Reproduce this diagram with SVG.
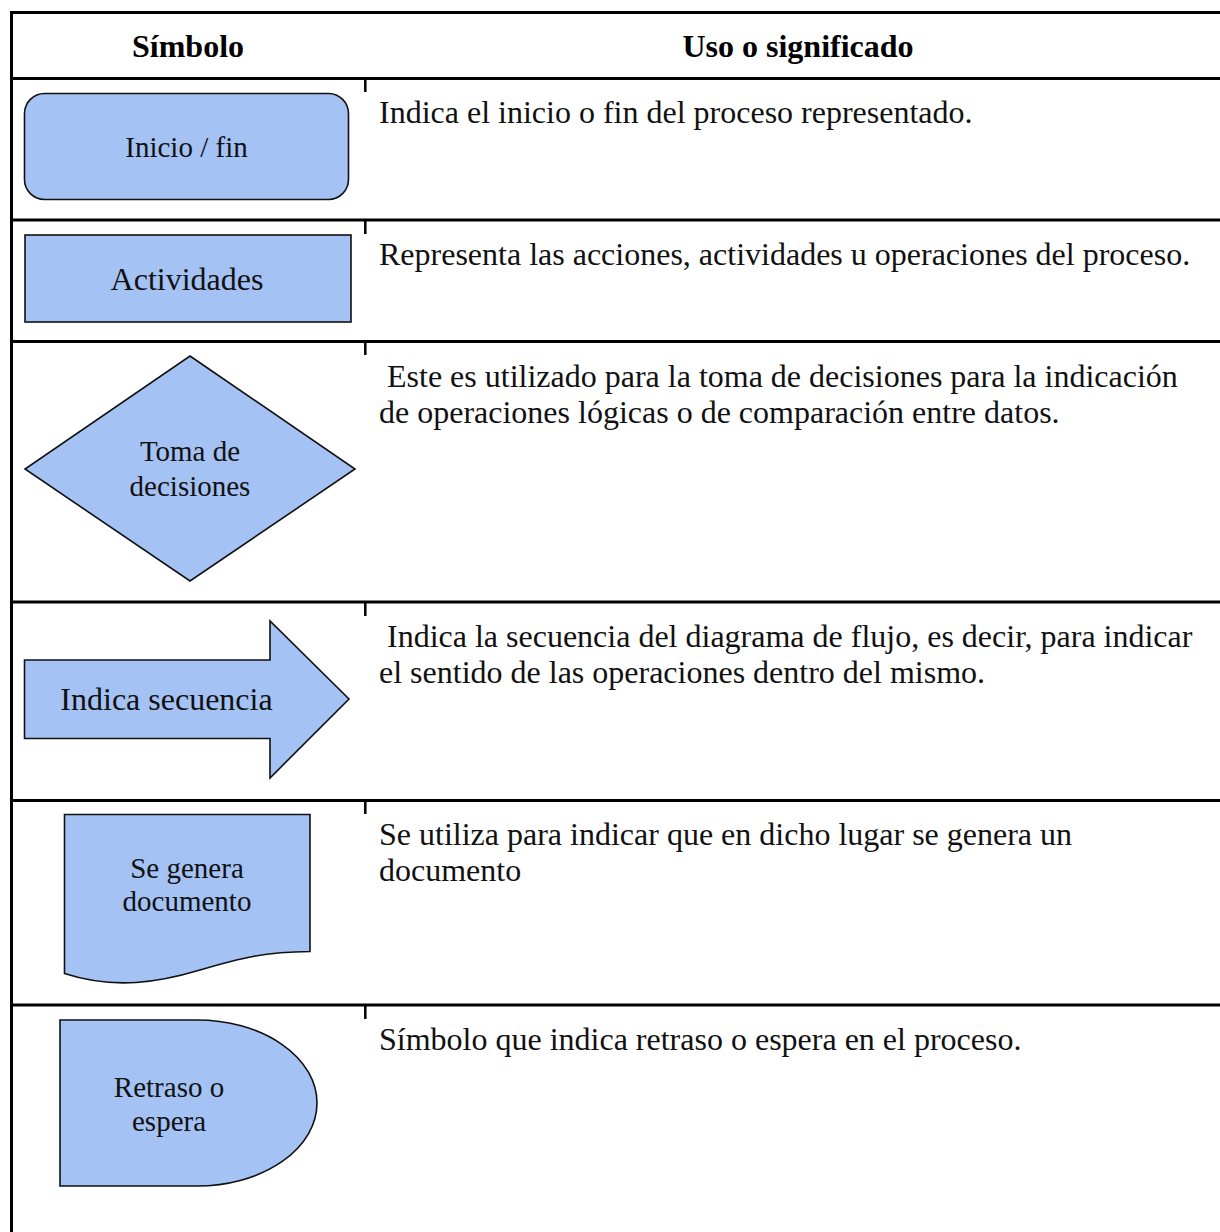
<svg xmlns="http://www.w3.org/2000/svg" width="1220" height="1232" viewBox="0 0 1220 1232">
<style>
.grid{stroke:#000;stroke-width:3;fill:none}
.tick{stroke:#000;stroke-width:2.5;fill:none}
.shape{fill:#a4c2f4;stroke:#111;stroke-width:1.6;stroke-linejoin:miter}
.lbl{font-family:"Liberation Serif","Times New Roman",serif;font-size:29px;fill:#111;text-anchor:middle}
.lbl32{font-size:32px}
.hdr{font-family:"Liberation Serif","Times New Roman",serif;font-size:32px;font-weight:bold;fill:#000;text-anchor:middle}
.txt{font-family:"Liberation Serif","Times New Roman",serif;font-size:32px;fill:#111}
</style>
<rect width="1220" height="1232" fill="#fff"/>
<g id="table">
<line class="grid" x1="10" y1="12.5" x2="1220" y2="12.5"/>
<line class="grid" x1="11.5" y1="11" x2="11.5" y2="1232"/>
<line class="grid" x1="10" y1="78.5" x2="1220" y2="78.5"/>
<line class="grid" x1="10" y1="220" x2="1220" y2="220"/>
<line class="grid" x1="10" y1="341.5" x2="1220" y2="341.5"/>
<line class="grid" x1="10" y1="602" x2="1220" y2="602"/>
<line class="grid" x1="10" y1="800.5" x2="1220" y2="800.5"/>
<line class="grid" x1="10" y1="1005" x2="1220" y2="1005"/>
<line class="tick" x1="365.3" y1="79" x2="365.3" y2="92"/>
<line class="tick" x1="365.3" y1="221" x2="365.3" y2="234"/>
<line class="tick" x1="365.3" y1="342" x2="365.3" y2="355"/>
<line class="tick" x1="365.3" y1="603" x2="365.3" y2="616"/>
<line class="tick" x1="365.3" y1="801" x2="365.3" y2="814"/>
<line class="tick" x1="365.3" y1="1006" x2="365.3" y2="1019"/>
</g>
<g id="header">
<text class="hdr" x="188" y="57">Símbolo</text>
<text class="hdr" x="798" y="57">Uso o significado</text>
</g>
<g id="node-inicio">
<rect class="shape" x="24.5" y="93.5" width="324" height="106" rx="20" ry="20"/>
<text class="lbl" x="186.5" y="157">Inicio / fin</text>
</g>
<g id="node-actividades">
<rect class="shape" x="25" y="235" width="326" height="87"/>
<text class="lbl lbl32" x="187" y="290">Actividades</text>
</g>
<g id="node-decision">
<polygon class="shape" points="190,356 355,469 190,581 25,469"/>
<text class="lbl" x="190" y="461">Toma de</text>
<text class="lbl" x="190" y="496">decisiones</text>
</g>
<g id="node-secuencia">
<polygon class="shape" points="24.5,660 270,660 270,621 349,699 270,778 270,738.5 24.5,738.5"/>
<text class="lbl lbl32" x="166.5" y="710">Indica secuencia</text>
</g>
<g id="node-documento">
<path class="shape" d="M64.5,814.5 H310 V951.5 C265,952 240,958 200,970 C160,982 115,990 64.5,973.5 Z"/>
<text class="lbl" x="187" y="878">Se genera</text>
<text class="lbl" x="187" y="911">documento</text>
</g>
<g id="node-retraso">
<path class="shape" d="M60,1020 H197 A120,83 0 0 1 197,1186 H60 Z"/>
<text class="lbl" x="169" y="1097">Retraso o</text>
<text class="lbl" x="169" y="1131">espera</text>
</g>
<g id="descriptions">
<text class="txt" x="379" y="123">Indica el inicio o fin del proceso representado.</text>
<text class="txt" x="379" y="265">Representa las acciones, actividades u operaciones del proceso.</text>
<text class="txt" x="387" y="387">Este es utilizado para la toma de decisiones para la indicación</text>
<text class="txt" x="379" y="423">de operaciones lógicas o de comparación entre datos.</text>
<text class="txt" x="387" y="647">Indica la secuencia del diagrama de flujo, es decir, para indicar</text>
<text class="txt" x="379" y="683">el sentido de las operaciones dentro del mismo.</text>
<text class="txt" x="379" y="845">Se utiliza para indicar que en dicho lugar se genera un</text>
<text class="txt" x="379" y="881">documento</text>
<text class="txt" x="379" y="1050">Símbolo que indica retraso o espera en el proceso.</text>
</g>
<g id="connectors"></g>
</svg>
